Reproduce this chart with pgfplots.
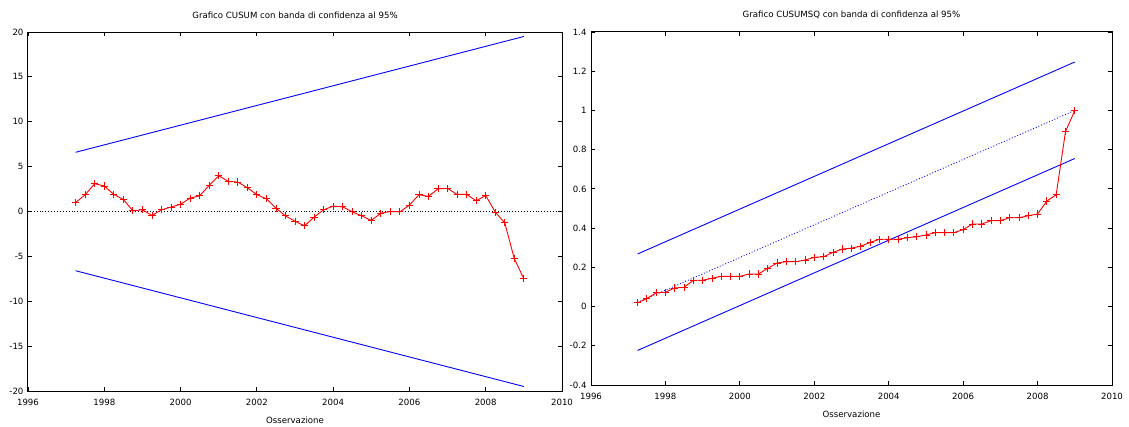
\documentclass[border=0pt]{standalone}
\usepackage{fontspec}
\setmainfont{DejaVu Sans}
\usepackage{pgfplots}
\pgfplotsset{compat=1.18}
\usepackage{pgfplotstable}

% Recursive residual statistics (quarterly observations)
\pgfplotstableread{
t cusum cusumsq
1997.25 1.01 0.019
1997.50 1.87 0.041
1997.75 3.10 0.070
1998.00 2.84 0.073
1998.25 1.90 0.095
1998.50 1.34 0.098
1998.75 0.07 0.134
1999.00 0.19 0.134
1999.25 -0.45 0.144
1999.50 0.19 0.154
1999.75 0.49 0.154
2000.00 0.82 0.154
2000.25 1.49 0.166
2000.50 1.75 0.166
2000.75 2.91 0.195
2001.00 3.99 0.222
2001.25 3.36 0.229
2001.50 3.28 0.229
2001.75 2.65 0.237
2002.00 1.87 0.251
2002.25 1.42 0.254
2002.50 0.37 0.276
2002.75 -0.49 0.293
2003.00 -1.08 0.298
2003.25 -1.60 0.308
2003.50 -0.63 0.327
2003.75 0.19 0.343
2004.00 0.60 0.343
2004.25 0.52 0.343
2004.50 -0.04 0.351
2004.75 -0.49 0.356
2005.00 -1.00 0.365
2005.25 -0.19 0.377
2005.50 0.00 0.377
2005.75 -0.04 0.377
2006.00 0.71 0.392
2006.25 1.87 0.421
2006.50 1.68 0.421
2006.75 2.54 0.438
2007.00 2.57 0.438
2007.25 1.90 0.453
2007.50 1.90 0.453
2007.75 1.19 0.463
2008.00 1.79 0.472
2008.25 -0.07 0.538
2008.50 -1.27 0.570
2008.75 -5.26 0.892
2009.00 -7.50 1.000
}\resid

\pgfplotsset{
  gpstyle/.style={
    scale only axis,
    anchor=south west,
    xmin=1996, xmax=2010,
    xtick={1996,1998,...,2010},
    axis line style={line width=1pt},
    tick style={black, line width=0.8pt},
    tick align=inside,
    major tick length=4pt,
    minor tick num=0,
    ticklabel style={font=\fontsize{8.6}{10}\selectfont},
    /pgf/number format/assume math mode=true,
    /pgf/number format/1000 sep={},
    xticklabel style={yshift=-5pt},
    yticklabel style={xshift=-1pt},
    title style={font=\fontsize{8.6}{10}\selectfont, yshift=4pt},
    xlabel style={font=\fontsize{8.6}{10}\selectfont, yshift=-4pt},
    xlabel={Osservazione},
    clip=false,
  },
  resid/.style={red, line width=0.9pt, mark=+, mark size=3.6pt,
    mark options={line width=0.8pt}},
  band/.style={blue, line width=0.9pt, no marks},
}

\begin{document}
\begin{tikzpicture}[x=1pt,y=1pt]
\path[use as bounding box] (0,0) rectangle (1129,426);

% CUSUM
\begin{axis}[gpstyle,
  at={(28pt,35pt)}, width=534pt, height=359pt,
  ymin=-20, ymax=20, ytick={-20,-15,...,20},
  title={Grafico CUSUM con banda di confidenza al 95\%},
]
\addplot[black, dotted, line width=0.9pt] coordinates {(1996,0) (2010,0)};
\addplot[band] coordinates {(1997.25,6.6) (2009,19.5)};
\addplot[band] coordinates {(1997.25,-6.6) (2009,-19.5)};
\addplot[resid] table[x=t, y=cusum] {\resid};
\end{axis}

% CUSUMSQ
\begin{axis}[gpstyle,
  at={(591pt,41pt)}, width=521pt, height=353pt,
  ymin=-0.4, ymax=1.4, ytick={-0.4,-0.2,...,1.41},
  yticklabel style={/pgf/number format/fixed, /pgf/number format/precision=1},
  title={Grafico CUSUMSQ con banda di confidenza al 95\%},
]
\addplot[blue, dotted, line width=0.9pt] coordinates {(1997.25,0.021) (2009,1.0)};
\addplot[band] coordinates {(1997.25,0.268) (2009,1.247)};
\addplot[band] coordinates {(1997.25,-0.224) (2009,0.755)};
\addplot[resid] table[x=t, y=cusumsq] {\resid};
\end{axis}
\end{tikzpicture}
\end{document}
